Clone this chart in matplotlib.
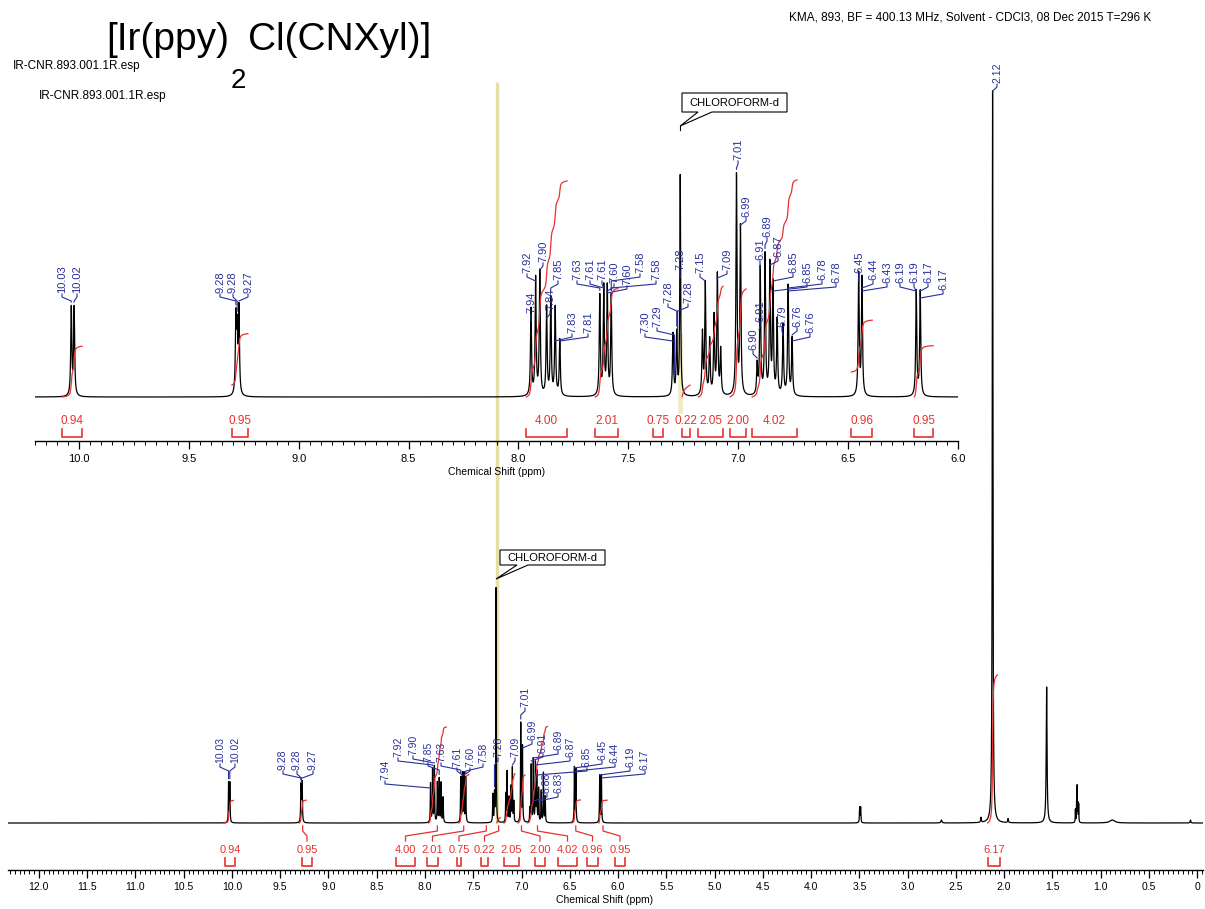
import numpy as np
import matplotlib
matplotlib.use("Agg")
import matplotlib.pyplot as plt
from matplotlib.ticker import MultipleLocator, FuncFormatter
from matplotlib.patches import Polygon

plt.rcParams['font.family'] = ['Liberation Sans', 'DejaVu Sans']

# ---------------- data ----------------
title_left = "[Ir(ppy)"
title_sub = "2"
title_right = "Cl(CNXyl)]"
header_text = "KMA, 893, BF = 400.13 MHz, Solvent - CDCl3, 08 Dec 2015 T=296 K"
file_name = "IR-CNR.893.001.1R.esp"
solvent_name = "CHLOROFORM-d"
x_title = "Chemical Shift (ppm)"

# aromatic resonance lines (ppm) and their heights in the expanded panel
aro_ppm = [10.035, 10.022,
           9.286, 9.280, 9.272,
           7.943, 7.922, 7.903, 7.872, 7.853, 7.833, 7.812,
           7.630, 7.612, 7.596, 7.578,
           7.297, 7.280,
           7.163, 7.150, 7.130, 7.110, 7.095, 7.080,
           7.008, 6.990,
           6.914, 6.900, 6.878, 6.856, 6.842, 6.823, 6.796, 6.773, 6.755,
           6.452, 6.437,
           6.190, 6.172]
aro_height = [88, 88,
              75, 60, 85,
              87, 117, 124, 88, 97, 88, 56,
              100, 108, 108, 100,
              62, 62,
              62, 112, 55, 78, 120, 45,
              220, 168,
              30, 127, 140, 130, 110, 75, 70, 110, 57,
              122, 118,
              105, 105]
full_to_zoom_ratio = 0.45

solvent_ppm = 7.264
solvent_height_zoom = 220
solvent_height_full = 235

# aliphatic / impurity lines (full spectrum only)
ali_ppm = [3.497, 3.487, 2.650, 2.240, 2.120, 1.960, 1.560,
           1.262, 1.250, 1.244, 1.236, 1.228, 0.880, 0.070]
ali_height = [15, 15, 3, 5, 733, 4, 136, 13, 18, 35, 18, 18, 3, 3]
ali_width = [0.003, 0.003, 0.006, 0.004, 0.004, 0.004, 0.005,
             0.002, 0.002, 0.002, 0.002, 0.002, 0.03, 0.004]

# integrals: region (ppm) and value
int_from = [10.077, 9.304, 7.965, 7.651, 7.387, 7.255, 7.182, 7.037, 6.937, 6.486, 6.199, 2.170]
int_to = [9.986, 9.231, 7.779, 7.547, 7.342, 7.219, 7.069, 6.964, 6.732, 6.390, 6.113, 2.070]
int_value = [0.94, 0.95, 4.00, 2.01, 0.75, 0.22, 2.05, 2.00, 4.02, 0.96, 0.95, 6.17]

# peak labels (text, ppm of the peak)
zoom_label_text = ["10.03", "10.02", "9.28", "9.28", "9.27",
                   "7.94", "7.92", "7.90", "7.84", "7.85", "7.83", "7.81",
                   "7.63", "7.61", "7.61", "7.60", "7.60", "7.58", "7.58",
                   "7.30", "7.29", "7.28", "7.28", "7.28",
                   "7.15", "7.09", "7.01", "6.99",
                   "6.91", "6.89", "6.87", "6.90", "6.91",
                   "6.85", "6.85", "6.78", "6.78", "6.79", "6.76", "6.76",
                   "6.45", "6.44", "6.43", "6.19", "6.19", "6.17", "6.17"]
zoom_label_ppm = [10.035, 10.022, 9.286, 9.280, 9.272,
                  7.943, 7.922, 7.903, 7.872, 7.853, 7.833, 7.812,
                  7.630, 7.612, 7.612, 7.596, 7.596, 7.578, 7.578,
                  7.297, 7.290, 7.280, 7.264, 7.276,
                  7.150, 7.095, 7.008, 6.990,
                  6.900, 6.878, 6.856, 6.914, 6.905,
                  6.842, 6.842, 6.773, 6.773, 6.796, 6.755, 6.755,
                  6.452, 6.437, 6.437, 6.190, 6.190, 6.172, 6.172]
full_label_text = ["10.03", "10.02", "9.28", "9.28", "9.27",
                   "7.94", "7.92", "7.90", "7.85", "7.63", "7.61", "7.60", "7.58",
                   "7.28", "7.09", "7.01", "6.99",
                   "6.91", "6.89", "6.87", "6.85", "6.45", "6.44", "6.19", "6.17",
                   "6.88", "6.83", "2.12"]
full_label_ppm = [10.035, 10.022, 9.286, 9.280, 9.272,
                  7.943, 7.922, 7.903, 7.853, 7.630, 7.612, 7.596, 7.578,
                  7.280, 7.095, 7.008, 6.990,
                  6.900, 6.878, 6.856, 6.842, 6.452, 6.437, 6.190, 6.172,
                  6.878, 6.823, 2.120]

# ---------------- layout (pixels) ----------------
W, H = 1205, 909
zoom_label_pos = [(62, 293), (77, 293), (220, 293), (233, 293), (248, 293),
                  (531, 313), (527, 273), (543, 262), (550, 310), (558, 280), (572, 333), (588, 333),
                  (577, 280), (590, 280), (602, 280), (614, 283), (627, 285), (640, 273), (656, 280),
                  (645, 333), (657, 327), (668, 303), (680, 270), (688, 303),
                  (700, 273), (727, 270), (738, 160), (746, 217),
                  (760, 260), (767, 237), (778, 257), (753, 350), (760, 322),
                  (793, 273), (807, 283), (822, 280), (836, 283), (782, 327), (797, 327), (810, 333),
                  (859, 273), (873, 280), (887, 283), (900, 283), (914, 283), (928, 283), (943, 290)]
full_label_pos = [(220, 763), (235, 763), (283, 770), (297, 770), (313, 770),
                  (385, 780), (398, 757), (413, 755), (428, 762), (441, 762), (457, 767), (470, 767), (483, 763),
                  (498, 757), (515, 757), (525, 707), (532, 740),
                  (543, 753), (558, 750), (570, 757), (587, 767), (602, 760), (615, 763), (630, 767), (645, 770),
                  (547, 793), (558, 793), (997, 83)]
full_bracket_px = [(225, 235), (302, 312), (396, 415), (427, 438), (457, 461), (481, 488),
                   (504, 519), (535, 545), (558, 577), (587, 598), (615, 625), (988, 1000)]
zoom_curve_offset = [0, 12, 0, 0, 0, 0, 0, 0, 0, 25, 0, 0]
curve_drawn = [True, True, True, True, False, True, True, True, True, True, True, True]

BLUE = "#28309a"
RED = "#e5322d"
YELLOW = "#e6e0a8"

fig = plt.figure(figsize=(W / 100, H / 100), dpi=100)


def rect(x0, y_top, x1, y_bot):
    return [x0 / W, 1 - y_bot / H, (x1 - x0) / W, (y_bot - y_top) / H]


def pixel_axes(z):
    a = fig.add_axes([0, 0, 1, 1], zorder=z)
    a.set_xlim(0, W)
    a.set_ylim(H, 0)
    a.axis('off')
    a.patch.set_alpha(0)
    return a


bg = pixel_axes(0)
ax_full = fig.add_axes(rect(8, 10, 1203, 870), zorder=1)
ax_zoom = fig.add_axes(rect(35, 60, 958, 441), zorder=1)
ov = pixel_axes(2)

ax_full.set_xlim(12.32, -0.06)
ax_full.set_ylim(-47, 813)
ax_zoom.set_xlim(10.2, 6.0)
ax_zoom.set_ylim(-44, 337)


def lor(x, x0, h, w):
    return h / (1.0 + ((x - x0) / w) ** 2)


def zoom_spec(x):
    y = np.zeros_like(np.asarray(x, dtype=float))
    for p, h in zip(aro_ppm, aro_height):
        y = y + lor(x, p, h, 0.0028)
    y = y + lor(x, solvent_ppm, solvent_height_zoom, 0.0022)
    return y


def full_spec(x):
    y = np.zeros_like(np.asarray(x, dtype=float))
    for p, h in zip(aro_ppm, aro_height):
        y = y + lor(x, p, h * full_to_zoom_ratio, 0.0028)
    y = y + lor(x, solvent_ppm, solvent_height_full, 0.0022)
    for p, h, w in zip(ali_ppm, ali_height, ali_width):
        y = y + lor(x, p, h, w)
    return y


xf = np.linspace(12.32, -0.06, 40000)
yf = full_spec(xf)
xz = np.linspace(10.2, 6.0, 12000)
yz = zoom_spec(xz)

ax_full.plot(xf, yf, color='black', lw=0.9)
ax_zoom.plot(xz, yz, color='black', lw=0.9)

fmt = FuncFormatter(lambda v, _: "0" if abs(v) < 1e-9 else f"{v:.1f}")
for ax, fs in ((ax_full, 7.5), (ax_zoom, 8)):
    ax.set_facecolor('none')
    for s in ('top', 'left', 'right'):
        ax.spines[s].set_visible(False)
    ax.spines['bottom'].set_linewidth(1.0)
    ax.yaxis.set_visible(False)
    ax.xaxis.set_major_locator(MultipleLocator(0.5))
    ax.xaxis.set_minor_locator(MultipleLocator(0.05))
    ax.xaxis.set_major_formatter(fmt)
    ax.tick_params(axis='x', which='major', direction='out', length=6, width=0.9,
                   labelsize=fs, pad=3)
    ax.tick_params(axis='x', which='minor', direction='out', length=3, width=0.7)


def to_px(ax, x, y):
    d = ax.transData.transform((x, y))
    return ov.transData.inverted().transform(d)


# integral curves
def draw_integrals(ax, x, y, scale, offsets):
    lo, hi = sorted(ax.get_xlim())
    for f, t, v, off, ok in zip(int_from, int_to, int_value, offsets, curve_drawn):
        if f > hi or t < lo or not ok:
            continue
        m = (x <= f) & (x >= t)
        xs, ys = x[m], y[m]
        cum = np.cumsum(ys)
        cum = cum / cum[-1] * v * scale + off
        ax.plot(xs, cum, color=RED, lw=0.9)


draw_integrals(ax_zoom, xz, yz, 54, zoom_curve_offset)
draw_integrals(ax_full, xf, yf, 24, [0] * len(int_value))

# zoom brackets
for f, t, v in zip(int_from, int_to, int_value):
    if t < 6.0:
        continue
    x0 = to_px(ax_zoom, f, 0)[0]
    x1 = to_px(ax_zoom, t, 0)[0]
    ov.plot([x0, x0, x1, x1], [429, 437, 437, 429], color=RED, lw=1.2)
    ov.text((x0 + x1) / 2, 421, f"{v:.2f}", color=RED, fontsize=8.5,
            ha='center', va='center')

# full brackets + leaders
base_full = to_px(ax_full, 0, 0)[1]
for (bx0, bx1), f, t, v in zip(full_bracket_px, int_from, int_to, int_value):
    ov.plot([bx0, bx0, bx1, bx1], [858, 866, 866, 858], color=RED, lw=1.2)
    bc = (bx0 + bx1) / 2
    ov.text(bc, 850, f"{v:.2f}", color=RED, fontsize=8, ha='center', va='center')
    cx = (to_px(ax_full, f, 0)[0] + to_px(ax_full, t, 0)[0]) / 2
    if abs(cx - bc) > 4:
        ov.plot([cx, cx, bc, bc], [base_full + 3, base_full + 8, base_full + 13, base_full + 18],
                color=RED, lw=0.9)


# peak labels
def draw_labels(ax, spec, texts, ppms, positions, fs):
    for txt, p, (lx, yb) in zip(texts, ppms, positions):
        ov.text(lx, yb, txt, rotation=90, ha='center', va='bottom', fontsize=fs, color=BLUE)
        pk = np.linspace(p - 0.002, p + 0.002, 41)
        top = to_px(ax, p, float(spec(pk).max()))[1]
        px = to_px(ax, p, 0)[0]
        y1, y2, y3 = yb + 1, yb + 4, yb + 8
        yend = max(top - 3, y3)
        ov.plot([lx, lx, px, px], [y1, y2, y3, yend], color=BLUE, lw=0.8)


draw_labels(ax_zoom, zoom_spec, zoom_label_text, zoom_label_ppm, zoom_label_pos, 8)
draw_labels(ax_full, full_spec, full_label_text, full_label_ppm, full_label_pos, 7.5)

# axis titles
ov.text(497, 472, x_title, ha='center', va='center', fontsize=7.5)
ov.text(605, 900, x_title, ha='center', va='center', fontsize=7.5)

# yellow reference line & highlight
bg.plot([497, 497], [82, base_full], color=YELLOW, lw=2.4, solid_capstyle='butt')
bg.plot([680, 680], [333, 413], color="#efebc6", lw=3.5, solid_capstyle='butt')


# solvent callouts
def callout(x0, y0, x1, y1, tail_a, tail_b, tip):
    poly = Polygon([(x0, y0), (x1, y0), (x1, y1), (tail_b, y1), tip, (tail_a, y1), (x0, y1)],
                   closed=True, facecolor='white', edgecolor='black', lw=0.8, zorder=5)
    ov.add_patch(poly)
    ov.text((x0 + x1) / 2, (y0 + y1) / 2 + 0.5, solvent_name, ha='center', va='center',
            fontsize=8, zorder=6)


tipz = to_px(ax_zoom, solvent_ppm, 0)[0]
tipf = to_px(ax_full, solvent_ppm, 0)[0]
callout(682, 93, 787, 112, 698, 712, (tipz, 126))
ov.plot([tipz, tipz], [126, 130], color='black', lw=0.8)
callout(500, 550, 605, 565, 517, 528, (tipf, 579))

# texts
r = fig.canvas.get_renderer()
t1 = ov.text(106, 50, title_left, fontsize=28, ha='left', va='baseline')
e1 = t1.get_window_extent(renderer=r)
t2 = ov.text(e1.x1 + 2, 88, title_sub, fontsize=20, ha='left', va='baseline')
e2 = t2.get_window_extent(renderer=r)
ov.text(e2.x1 + 2, 50, title_right, fontsize=28, ha='left', va='baseline')

ov.text(789, 17, header_text, fontsize=8.5, ha='left', va='center')
ov.text(13, 66, file_name, fontsize=8.5, ha='left', va='center')
ov.text(39, 96, file_name, fontsize=8.5, ha='left', va='center')

fig.savefig("out.png", dpi=100)
